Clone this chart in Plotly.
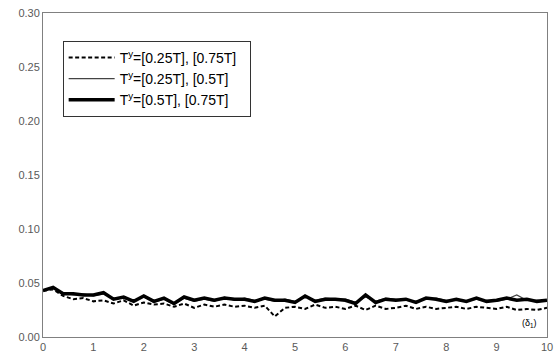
import plotly.graph_objects as go

x_vals = [round(i * 0.2, 1) for i in range(51)]

dashed = [0.043, 0.044, 0.038, 0.035, 0.036, 0.033, 0.034, 0.031, 0.034, 0.029,
          0.032, 0.030, 0.031, 0.028, 0.031, 0.027, 0.030, 0.028, 0.030, 0.028,
          0.029, 0.027, 0.029, 0.019, 0.027, 0.028, 0.026, 0.030, 0.027, 0.028,
          0.026, 0.029, 0.025, 0.029, 0.026, 0.027, 0.029, 0.026, 0.028, 0.026,
          0.027, 0.028, 0.026, 0.028, 0.027, 0.026, 0.028, 0.025, 0.026, 0.025,
          0.027]
thin = [0.043, 0.045, 0.041, 0.039, 0.040, 0.038, 0.040, 0.036, 0.036, 0.034,
        0.037, 0.032, 0.035, 0.030, 0.036, 0.033, 0.035, 0.033, 0.037, 0.034,
        0.036, 0.034, 0.035, 0.033, 0.035, 0.033, 0.037, 0.034, 0.036, 0.035,
        0.035, 0.032, 0.037, 0.033, 0.036, 0.035, 0.034, 0.033, 0.035, 0.036,
        0.034, 0.034, 0.033, 0.035, 0.033, 0.033, 0.035, 0.039, 0.034, 0.034,
        0.033]
thick = [0.043, 0.046, 0.040, 0.040, 0.039, 0.039, 0.041, 0.035, 0.037, 0.033,
         0.038, 0.033, 0.036, 0.031, 0.037, 0.034, 0.036, 0.034, 0.036, 0.035,
         0.035, 0.033, 0.036, 0.034, 0.034, 0.032, 0.038, 0.033, 0.035, 0.035,
         0.034, 0.031, 0.039, 0.032, 0.035, 0.034, 0.035, 0.032, 0.036, 0.035,
         0.033, 0.035, 0.033, 0.036, 0.033, 0.034, 0.036, 0.034, 0.035, 0.033,
         0.034]

names = ["T<sup>y</sup>=[0.25T], [0.75T]&nbsp;&nbsp;",
         "T<sup>y</sup>=[0.25T], [0.5T]",
         "T<sup>y</sup>=[0.5T], [0.75T]"]
y_ticks = [0.0, 0.05, 0.10, 0.15, 0.20, 0.25, 0.30]
x_ticks = list(range(11))

fig = go.Figure()
fig.add_trace(go.Scatter(x=x_vals, y=dashed, mode="lines", name=names[0],
                         line=dict(color="black", width=2, dash="4px,2.5px")))
fig.add_trace(go.Scatter(x=x_vals, y=thin, mode="lines", name=names[1],
                         line=dict(color="#444444", width=1.2)))
fig.add_trace(go.Scatter(x=x_vals, y=thick, mode="lines", name=names[2],
                         line=dict(color="black", width=3.5)))

axis_font = dict(family="Liberation Sans, Arial", size=11, color="#595959")
fig.update_layout(
    width=560, height=362,
    margin=dict(l=43, r=7, t=10, b=25),
    paper_bgcolor="white", plot_bgcolor="white",
    showlegend=True,
    legend=dict(x=0.039, y=0.914, xanchor="left", yanchor="top",
                bgcolor="white", bordercolor="#333333", borderwidth=1,
                font=dict(family="Liberation Sans, Arial", size=14, color="black"),
                tracegroupgap=0, itemwidth=46),
    xaxis=dict(range=[0, 10], tickvals=x_ticks, showgrid=False, zeroline=False,
               showline=True, linecolor="#808080", linewidth=1, mirror=True,
               ticks="", tickfont=axis_font),
    yaxis=dict(range=[0, 0.30], tickvals=y_ticks, tickformat=".2f", showgrid=False,
               zeroline=False, showline=True, linecolor="#808080", linewidth=1,
               mirror=True, ticks="", tickfont=axis_font),
    annotations=[dict(x=0.985, y=0.02, xref="paper", yref="paper",
                      text="(δ<sub>1</sub>)", showarrow=False,
                      xanchor="right", yanchor="bottom",
                      font=dict(family="Liberation Sans, Arial", size=9, color="black"))],
)

fig.write_html("out.html", config={"displayModeBar": False},
               post_script="document.body.style.margin='0';")
